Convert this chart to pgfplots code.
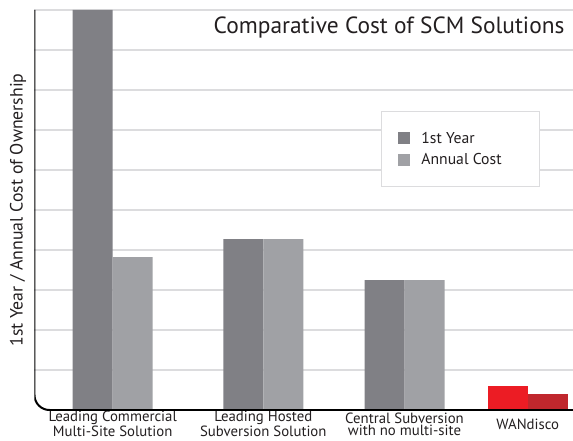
\documentclass[border=0pt]{standalone}
\usepackage{fontspec}
\setmainfont{PT Sans}
\usepackage{pgfplots}
\pgfplotsset{compat=1.18}
\definecolor{darkbar}{RGB}{128,128,133}
\definecolor{lightbar}{RGB}{160,161,165}
\definecolor{redbar}{RGB}{236,28,36}
\definecolor{dredbar}{RGB}{192,39,45}
\definecolor{gridc}{RGB}{220,220,222}
\definecolor{txt}{RGB}{35,31,32}
\begin{document}
\begin{tikzpicture}
\useasboundingbox (0,0) rectangle (573pt,440pt);
\begin{axis}[
  at={(34.5pt,30pt)}, anchor=south west,
  scale only axis, width=538.5pt, height=400pt,
  xmin=34.5, xmax=573, ymin=0, ymax=10,
  axis line style={draw=none},
  ytick={1,2,...,10}, yticklabels={},
  ymajorgrids, grid style={gridc, line width=1.6pt},
  major tick length=0pt,
  xtick={112.7,263.3,404.5,527.7},
  xticklabels={{Leading Commercial\\Multi-Site Solution},{Leading Hosted\\Subversion Solution},{Central Subversion\\with no multi-site},{WANdisco}},
  xticklabel style={font=\fontsize{14.8}{12.2}\selectfont, align=center, anchor=center, inner sep=0.5pt, yshift=-14pt, text=txt},
  ylabel={1st Year / Annual Cost of Ownership},
  every axis y label/.style={at={(rel axis cs:0,0.5)}, xshift=-16.5pt, rotate=90, anchor=center, font=\fontsize{17.8}{17.8}\selectfont, text=txt},
  title={Comparative Cost of SCM Solutions},
  title style={at={(rel axis cs:0.9907,0.9268)}, anchor=base east, font=\fontsize{23.4}{23.4}\selectfont, text=txt},
  legend style={at={(rel axis cs:0.6435,0.7475)}, anchor=north west, draw=gridc, line width=0.8pt,
     font=\fontsize{15.7}{15.7}\selectfont, inner xsep=17pt, inner ysep=18.5pt, row sep=5pt, text=txt},
  legend cell align=left,
  clip=true,
]
\addplot[ybar, bar width=40, bar shift=0pt, fill=darkbar, draw=none,
  legend image code/.code={\fill[darkbar] (0pt,-6pt) rectangle (12pt,6pt);}]
  coordinates {(92.7,10) (243.3,4.27) (384.6,3.25)};
\addlegendentry{\hspace{9pt}\makebox[99pt][l]{1st Year}}
\addplot[ybar, bar width=40, bar shift=0pt, fill=lightbar, draw=none,
  legend image code/.code={\fill[lightbar] (0pt,-6pt) rectangle (12pt,6pt);}]
  coordinates {(132.7,3.82) (283.3,4.27) (424.5,3.25)};
\addlegendentry{\hspace{9pt}\makebox[99pt][l]{Annual Cost}}
\addplot[ybar, bar width=40, bar shift=0pt, fill=redbar, draw=none, forget plot]
  coordinates {(507.7,0.6)};
\addplot[ybar, bar width=40, bar shift=0pt, fill=dredbar, draw=none, forget plot]
  coordinates {(547.7,0.4)};
\draw[black, line width=2pt, rounded corners=15pt] (rel axis cs:0,1) -- (rel axis cs:0,0) -- (rel axis cs:1.01,0);
\end{axis}
\end{tikzpicture}
\end{document}
